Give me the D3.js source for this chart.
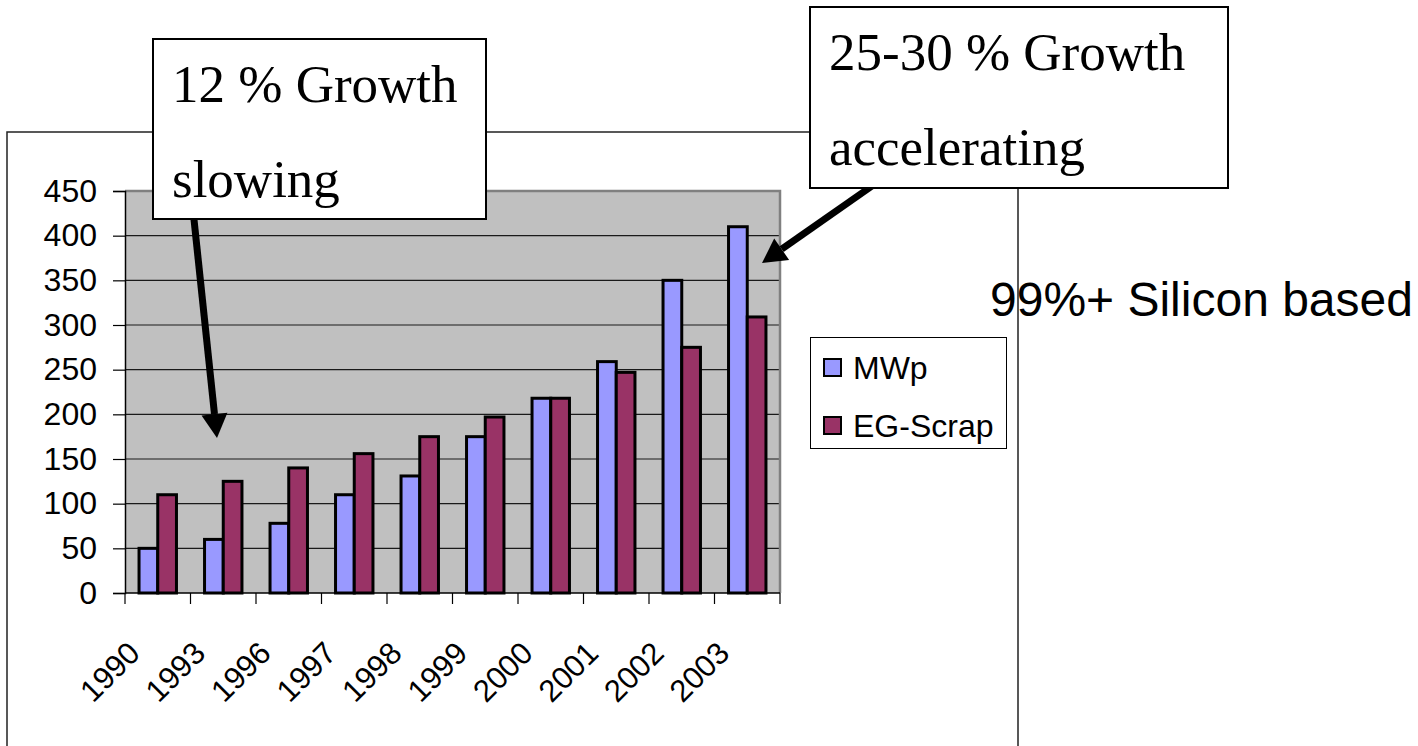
<!DOCTYPE html>
<html>
<head>
<meta charset="utf-8">
<script src="https://cdn.jsdelivr.net/npm/d3@7/dist/d3.min.js"></script>
<style>
  html, body { margin: 0; padding: 0; background: #fff; }
  svg { display: block; }
</style>
</head>
<body>
<svg id="chart" width="1418" height="746"></svg>
<script>
// Annual figures by year
const years = ["1990", "1993", "1996", "1997", "1998", "1999", "2000", "2001", "2002", "2003"];
const mwp = [50, 60, 78, 110, 131, 175, 218, 259, 350, 410];
const egScrap = [110, 125, 140, 156, 175, 197, 218, 247, 275, 309];
const seriesNames = ["MWp", "EG-Scrap"];
const seriesColors = ["#9999FF", "#993366"];
const yTicks = [0, 50, 100, 150, 200, 250, 300, 350, 400, 450];

const svg = d3.select("#chart");
const sans = "'Liberation Sans', Arial, sans-serif";
const serif = "'Liberation Serif', 'Times New Roman', serif";

// Chart frame
const frame = svg.append("g").attr("stroke", "#222").attr("stroke-width", 1.5).attr("fill", "none");
frame.append("path").attr("d", "M7,746 L7,132 L1018,132 L1018,746");

// Plot area
const plot = { left: 125, right: 780, top: 191, bottom: 593 };
const x0 = d3.scaleBand().domain(years).range([plot.left, plot.right]).padding(0);
const x1 = d3.scaleBand().domain(seriesNames).range([0, x0.bandwidth()])
  .paddingInner(0).paddingOuter(0.75);
const y = d3.scaleLinear().domain([0, 450]).range([plot.bottom, plot.top]);

svg.append("rect")
  .attr("x", plot.left).attr("y", plot.top)
  .attr("width", plot.right - plot.left).attr("height", plot.bottom - plot.top)
  .attr("fill", "#C0C0C0");

// Horizontal gridlines
svg.append("g").selectAll("line")
  .data(yTicks.filter(d => d > 0 && d < 450))
  .join("line")
  .attr("x1", plot.left).attr("x2", plot.right)
  .attr("y1", d => y(d)).attr("y2", d => y(d))
  .attr("stroke", "#1a1a1a").attr("stroke-width", 1.1);

// Plot border (top and right)
svg.append("path")
  .attr("d", `M${plot.left},${plot.top} L${plot.right},${plot.top} L${plot.right},${plot.bottom}`)
  .attr("fill", "none").attr("stroke", "#808080").attr("stroke-width", 2.5);

// Bars
const rows = years.map((yr, i) => ({ year: yr, values: [mwp[i], egScrap[i]] }));
const groups = svg.append("g").selectAll("g")
  .data(rows).join("g")
  .attr("transform", d => `translate(${x0(d.year)},0)`);
groups.selectAll("rect")
  .data(d => d.values.map((v, k) => ({ key: seriesNames[k], value: v, k })))
  .join("rect")
  .attr("x", d => x1(d.key))
  .attr("y", d => y(d.value))
  .attr("width", x1.bandwidth())
  .attr("height", d => y(0) - y(d.value))
  .attr("fill", d => seriesColors[d.k])
  .attr("stroke", "#000").attr("stroke-width", 3);

// Y axis
const yAxis = d3.axisLeft(y).tickValues(yTicks).tickSize(12).tickPadding(16);
const yg = svg.append("g").attr("transform", `translate(${plot.left},0)`).call(yAxis);
yg.select(".domain").attr("stroke", "#000").attr("stroke-width", 1.5);
yg.selectAll(".tick line").attr("stroke", "#000").attr("stroke-width", 1.2);
yg.selectAll("text").attr("font-family", sans).attr("font-size", 32).attr("fill", "#000");

// X axis: ticks at category boundaries
const xg = svg.append("g").attr("transform", `translate(0,${plot.bottom})`);
xg.append("line").attr("x1", plot.left).attr("x2", plot.right)
  .attr("stroke", "#000").attr("stroke-width", 1.5);
const bounds = years.map(d => x0(d)).concat([plot.right]);
xg.selectAll("line.tk").data(bounds).join("line").attr("class", "tk")
  .attr("x1", d => d).attr("x2", d => d).attr("y1", 0).attr("y2", 11)
  .attr("stroke", "#000").attr("stroke-width", 1.2);
xg.selectAll("text").data(years).join("text")
  .attr("transform", d => `translate(${x0(d) + x0.bandwidth() / 2 - 16},${62}) rotate(-45)`)
  .attr("text-anchor", "end")
  .attr("font-family", sans).attr("font-size", 31).attr("fill", "#000")
  .text(d => d);

// Legend
const legend = svg.append("g");
legend.append("rect").attr("x", 810.5).attr("y", 337.5).attr("width", 196).attr("height", 111)
  .attr("fill", "#fff").attr("stroke", "#000").attr("stroke-width", 1);
const legendY = [368, 426];
seriesNames.forEach((name, k) => {
  legend.append("rect").attr("x", 824).attr("y", legendY[k] - 9).attr("width", 17).attr("height", 17)
    .attr("fill", seriesColors[k]).attr("stroke", "#000").attr("stroke-width", 2);
  legend.append("text").attr("x", 853).attr("y", legendY[k] + 11)
    .attr("font-family", sans).attr("font-size", 32).attr("fill", "#000").text(name);
});

// Callout arrows
function arrow(x1a, y1a, x2a, y2a) {
  const ang = Math.atan2(y2a - y1a, x2a - x1a);
  const headLen = 24, headHalf = 13;
  const bx = x2a - headLen * Math.cos(ang), by = y2a - headLen * Math.sin(ang);
  svg.append("line").attr("x1", x1a).attr("y1", y1a).attr("x2", bx).attr("y2", by)
    .attr("stroke", "#000").attr("stroke-width", 7);
  const px = -Math.sin(ang) * headHalf, py = Math.cos(ang) * headHalf;
  svg.append("path")
    .attr("d", `M${x2a},${y2a} L${bx + px},${by + py} L${bx - px},${by - py} Z`)
    .attr("fill", "#000");
}
arrow(193, 210, 217, 438);
arrow(872, 186, 762, 263);

// Callout boxes
function callout(bx, by, bw, bh, lines, baselines) {
  svg.append("rect").attr("x", bx).attr("y", by).attr("width", bw).attr("height", bh)
    .attr("fill", "#fff").attr("stroke", "#000").attr("stroke-width", 2);
  lines.forEach((t, i) => {
    svg.append("text").attr("x", bx + 19).attr("y", baselines[i])
      .attr("font-family", serif).attr("font-size", 53).attr("fill", "#000").text(t);
  });
}
callout(153, 39, 333, 180, ["12 % Growth", "slowing"], [102, 197]);
callout(810, 7, 418, 181, ["25-30 % Growth", "accelerating"], [70, 165]);

// Side note
svg.append("text").attr("x", 990).attr("y", 316)
  .attr("font-family", sans).attr("font-size", 48).attr("fill", "#000")
  .text("99%+ Silicon based");
</script>
</body>
</html>
